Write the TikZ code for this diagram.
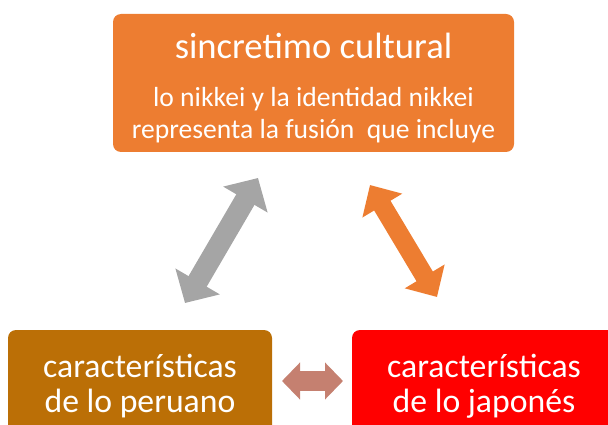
\documentclass[tikz,border=0pt]{standalone}
\usepackage{fontspec}
\setmainfont{Carlito}
\usetikzlibrary{arrows.meta, positioning}

\definecolor{naranja}{RGB}{237,125,49}
\definecolor{ocre}{RGB}{187,111,6}
\definecolor{rojo}{RGB}{255,0,0}
\definecolor{gris}{RGB}{165,165,165}
\definecolor{salmon}{RGB}{197,128,112}

\tikzset{
  caja/.style={rounded corners=8pt, text=white, align=center, inner sep=0pt},
  cajabaja/.style={caja, minimum width=264pt, minimum height=112pt,
    font=\fontsize{33.7}{35}\selectfont},
  flecha/.style={line width=#1, line cap=butt}
}

\begin{document}
\begin{tikzpicture}[x=1pt, y=-1pt]

        % ==========================================
        % AREA DEL DIBUJO
        % ==========================================
        \useasboundingbox (0,0) rectangle (608,425);

        % ==========================================
        % CAJA SUPERIOR
        % ==========================================
        \node[caja, fill=naranja, minimum width=401pt, minimum height=138pt,
              font=\fontsize{27.6}{32}\selectfont] (sincretismo) at (313.5,83)
              {\rule{0pt}{36pt}{\fontsize{36.6}{32}\selectfont sincretimo cultural}\\[16pt]
               lo nikkei y la identidad nikkei\\
               representa la fusión\ \ que incluye};

        % ==========================================
        % CAJAS INFERIORES (cortadas por abajo)
        % ==========================================
        \node[cajabaja, fill=ocre] (peruano) at (140,386)
              {características\\de lo peruano};
        \node[cajabaja, fill=rojo] (japones) at (484,386)
              {características\\de lo japonés};

        % ==========================================
        % FLECHAS DOBLES
        % ==========================================
        \coordinate (gris-a) at (185,303);
        \coordinate (gris-b) at (258,178);
        \coordinate (nar-a) at (370,185);
        \coordinate (nar-b) at (437,297);
        \coordinate (sal-a) at (282,381);
        \coordinate (sal-b) at (343,381);

        % Flecha gris (peruano - sincretismo)
        \draw[gris, flecha=21pt, {Triangle[length=25pt,width=50pt]}-{Triangle[length=25pt,width=50pt]}]
            (gris-a) -- (gris-b);
        % Flecha naranja (sincretismo - japones)
        \draw[naranja, flecha=19pt, {Triangle[length=24pt,width=45pt]}-{Triangle[length=24pt,width=45pt]}]
            (nar-a) -- (nar-b);
        % Flecha pequena entre las cajas de abajo
        \draw[salmon, flecha=20pt, {Triangle[length=18pt,width=36pt]}-{Triangle[length=18pt,width=36pt]}]
            (sal-a) -- (sal-b);

    \end{tikzpicture}
\end{document}
